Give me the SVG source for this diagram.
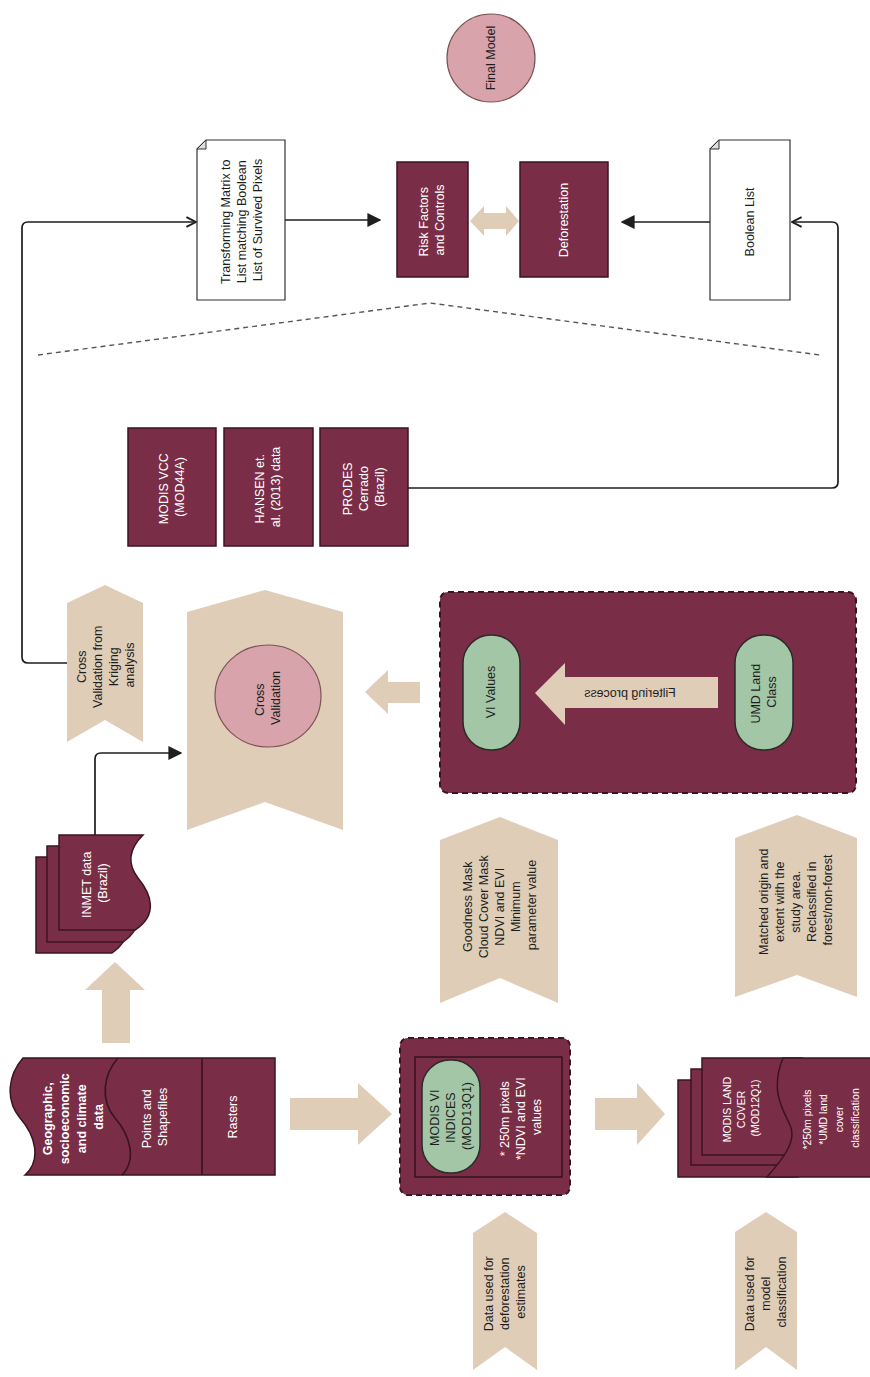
<svg xmlns="http://www.w3.org/2000/svg" width="870" height="1377" viewBox="0 0 870 1377">
  <style>
    .maroon { fill: #7a2d46; stroke: #3b1421; stroke-width: 1.5; }
    .dash { fill: #7a2d46; stroke: #3b1421; stroke-width: 2; stroke-dasharray: 6 4; }
    .tan { fill: #dfcdb8; stroke: none; }
    .pill { fill: #a3c6a6; stroke: #2b2b2b; stroke-width: 1.5; }
    .pink { fill: #d8a3aa; stroke: #7d5257; stroke-width: 1.2; }
    .doc { fill: #ffffff; stroke: #333333; stroke-width: 1.2; }
    .fold { fill: #dddddd; stroke: #333333; stroke-width: 1; }
    .conn { fill: none; stroke: #1e1e1e; stroke-width: 1.7; }
    .sep { fill: none; stroke: #555555; stroke-width: 1.4; stroke-dasharray: 5 4; }
    text { font-family: "Liberation Sans", Arial, sans-serif; font-size: 12.5px; text-anchor: middle; }
    .w { fill: #ffffff; }
    .k { fill: #1e1e1e; }
    .b { font-weight: bold; font-size: 12.5px; }
    .s { font-size: 10.5px; }
  </style>
  <defs>
    <marker id="arrowFill" viewBox="0 0 10 10" refX="9" refY="5" markerWidth="14" markerHeight="14" markerUnits="userSpaceOnUse" orient="auto">
      <path d="M0,0 L10,5 L0,10 z" fill="#1e1e1e"/>
    </marker>
    <marker id="arrowOpen" viewBox="0 0 10 10" refX="9" refY="5" markerWidth="12" markerHeight="12" markerUnits="userSpaceOnUse" orient="auto">
      <path d="M1,1 L9,5 L1,9" fill="none" stroke="#1e1e1e" stroke-width="1.6"/>
    </marker>
  </defs>

  <rect width="870" height="1377" fill="#ffffff"/>

  <!-- connectors -->
  <g id="connectors">
    <path class="conn" d="M285,220 H380" marker-end="url(#arrowFill)"/>
    <path class="conn" d="M710,222 H622" marker-end="url(#arrowFill)"/>
    <path class="conn" d="M408,488 H832 Q838,488 838,482 V228 Q838,222 832,222 H792" marker-end="url(#arrowOpen)"/>
    <path class="conn" d="M68,663 H28 Q22,663 22,657 V228 Q22,222 28,222 H196" marker-end="url(#arrowOpen)"/>
    <path class="conn" d="M95,835 V759 Q95,753 101,753 H181" marker-end="url(#arrowFill)"/>
    <path class="sep" d="M38,355 L430,303 L820,355"/>
    <!-- block arrows -->
    <polygon class="tan" points="290,1098 358,1098 358,1083 392,1114 358,1145 358,1130 290,1130"/>
    <polygon class="tan" points="595,1098 637,1098 637,1083 665,1114 637,1145 637,1130 595,1130"/>
    <polygon class="tan" points="102,1043 102,990 85,990 115,962 145,990 130,990 130,1043"/>
    <polygon class="tan" points="420,682 388,682 388,670 365,692 388,714 388,703 420,703"/>
    <polygon class="tan" points="470,221 484,206 484,213 506,213 506,206 519,221 506,236 506,229 484,229 484,236"/>
  </g>

  <!-- top: final model -->
  <g id="final-model">
    <circle class="pink" cx="491" cy="58" r="44"/>
    <text class="k" transform="translate(491,58) rotate(-90)" y="4">Final Model</text>
  </g>

  <g id="transform-doc">
    <path class="doc" d="M206,140 H285 V300 H197 V149 Z"/>
    <path class="fold" d="M197,149 L206,140 L206,149 Z"/>
    <text class="k" transform="translate(242,220) rotate(-90)">
      <tspan x="0" y="-12">Transforming Matrix to</tspan>
      <tspan x="0" y="4">List matching Boolean</tspan>
      <tspan x="0" y="20">List of Survived Pixels</tspan>
    </text>
  </g>

  <g id="risk-factors">
    <rect class="maroon" x="397" y="162" width="71" height="115"/>
    <text class="w" transform="translate(432,220) rotate(-90)">
      <tspan x="0" y="-4">Risk Factors</tspan>
      <tspan x="0" y="12">and Controls</tspan>
    </text>
  </g>

  <g id="deforestation">
    <rect class="maroon" x="520" y="162" width="88" height="115"/>
    <text class="w" transform="translate(564,220) rotate(-90)" y="4">Deforestation</text>
  </g>

  <g id="boolean-list">
    <path class="doc" d="M719,140 H790 V300 H710 V149 Z"/>
    <path class="fold" d="M710,149 L719,140 L719,149 Z"/>
    <text class="k" transform="translate(750,222) rotate(-90)" y="4">Boolean List</text>
  </g>

  <!-- reference datasets -->
  <g id="modis-vcc">
    <rect class="maroon" x="128" y="428" width="88" height="118"/>
    <text class="w" transform="translate(172,487) rotate(-90)">
      <tspan x="0" y="-4">MODIS VCC</tspan>
      <tspan x="0" y="12">(MOD44A)</tspan>
    </text>
  </g>
  <g id="hansen">
    <rect class="maroon" x="224" y="428" width="89" height="118"/>
    <text class="w" transform="translate(268,487) rotate(-90)">
      <tspan x="0" y="-4">HANSEN et.</tspan>
      <tspan x="0" y="12">al. (2013) data</tspan>
    </text>
  </g>
  <g id="prodes">
    <rect class="maroon" x="320" y="428" width="88" height="118"/>
    <text class="w" transform="translate(364,487) rotate(-90)">
      <tspan x="0" y="-12">PRODES</tspan>
      <tspan x="0" y="4">Cerrado</tspan>
      <tspan x="0" y="20">(Brazil)</tspan>
    </text>
  </g>

  <!-- cross validation -->
  <g id="kriging">
    <polygon class="tan" points="67,603 105,585 143,603 143,742 105,720 67,742"/>
    <text class="k" transform="translate(106,665) rotate(-90)">
      <tspan x="0" y="-20">Cross</tspan>
      <tspan x="0" y="-4">Validation from</tspan>
      <tspan x="0" y="12">Kriging</tspan>
      <tspan x="0" y="28">analysis</tspan>
    </text>
  </g>

  <g id="cross-validation">
    <polygon class="tan" points="187,612 265,590 343,612 343,830 265,802 187,830"/>
    <ellipse class="pink" cx="268" cy="696" rx="53" ry="51"/>
    <text class="k" transform="translate(268,698) rotate(-90)">
      <tspan x="0" y="-4">Cross</tspan>
      <tspan x="0" y="12">Validation</tspan>
    </text>
  </g>

  <g id="filtering">
    <rect class="dash" x="440" y="592" width="416" height="201" rx="8"/>
    <rect class="pill" x="463" y="635" width="57" height="115" rx="28"/>
    <text class="k" transform="translate(491,692) rotate(-90)" y="4">VI Values</text>
    <rect class="pill" x="735" y="635" width="58" height="115" rx="28"/>
    <text class="k" transform="translate(764,692) rotate(-90)">
      <tspan x="0" y="-4">UMD Land</tspan>
      <tspan x="0" y="12">Class</tspan>
    </text>
    <polygon class="tan" points="718,677 565,677 565,663 535,693 565,725 565,708 718,708"/>
    <text class="k" transform="translate(630,697) scale(-1,1)">Filtering process</text>
  </g>

  <!-- INMET stack -->
  <g id="inmet">
    <path class="maroon" d="M36,857 H120 C105,872 105,887 115,900 C129,917 135,937 112,953 H36 Z"/>
    <path class="maroon" d="M47,846 H131 C116,861 116,876 126,889 C140,906 146,926 123,942 H47 Z"/>
    <path class="maroon" d="M59,835 H143 C128,850 128,865 138,878 C152,895 158,915 135,930 H59 Z"/>
    <text class="w" transform="translate(95,883) rotate(-90)">
      <tspan x="0" y="-4">INMET data</tspan>
      <tspan x="0" y="12">(Brazil)</tspan>
    </text>
  </g>

  <!-- input data -->
  <g id="geo-data">
    <path class="maroon" d="M23,1058 H275 V1175 H25 C42,1160 35,1135 20,1118 C5,1100 8,1075 23,1058 Z"/>
    <path class="conn" style="stroke:#3b1421" d="M118,1058 C103,1075 100,1100 115,1118 C130,1135 137,1160 122,1175"/>
    <path class="conn" style="stroke:#3b1421" d="M202,1058 V1175"/>
    <text class="w b" transform="translate(73,1117) rotate(-90)">
      <tspan x="0" y="-21">Geographic,</tspan>
      <tspan x="0" y="-4">socioeconomic</tspan>
      <tspan x="0" y="13">and climate</tspan>
      <tspan x="0" y="30">data</tspan>
    </text>
    <text class="w" transform="translate(155,1117) rotate(-90)">
      <tspan x="0" y="-4">Points and</tspan>
      <tspan x="0" y="12">Shapefiles</tspan>
    </text>
    <text class="w" transform="translate(233,1117) rotate(-90)" y="4">Rasters</text>
  </g>

  <g id="modis-vi">
    <rect class="dash" x="400" y="1038" width="170" height="157" rx="8"/>
    <rect fill="none" stroke="#2a0e17" stroke-width="1.3" x="415" y="1057" width="147" height="120"/>
    <rect class="pill" x="422" y="1060" width="58" height="113" rx="28"/>
    <text class="k" transform="translate(451,1116) rotate(-90)">
      <tspan x="0" y="-12">MODIS VI</tspan>
      <tspan x="0" y="4">INDICES</tspan>
      <tspan x="0" y="20">(MOD13Q1)</tspan>
    </text>
    <text class="w" transform="translate(521,1117) rotate(-90)">
      <tspan x="0" y="-12">* 250m pixels</tspan>
      <tspan x="0" y="4">*NDVI and EVI</tspan>
      <tspan x="0" y="20">values</tspan>
    </text>
  </g>

  <g id="modis-land-cover">
    <rect class="maroon" x="678" y="1080" width="120" height="97"/>
    <rect class="maroon" x="691" y="1069" width="110" height="96"/>
    <rect class="maroon" x="702" y="1058" width="100" height="97"/>
    <path class="maroon" d="M783,1058 H875 V1177 H767 C780,1162 798,1142 790,1125 C782,1108 770,1090 783,1058 Z"/>
    <text class="w s" transform="translate(742,1108) rotate(-90)">
      <tspan x="0" y="-11">MODIS LAND</tspan>
      <tspan x="0" y="3">COVER</tspan>
      <tspan x="0" y="17">(MOD12Q1)</tspan>
    </text>
    <text class="w s" transform="translate(832,1118) rotate(-90)">
      <tspan x="0" y="-21">*250m pixels</tspan>
      <tspan x="0" y="-5">*UMD land</tspan>
      <tspan x="0" y="11">cover</tspan>
      <tspan x="0" y="27">classification</tspan>
    </text>
  </g>

  <!-- annotations -->
  <g id="note-masks">
    <polygon class="tan" points="440,840 500,817 558,840 558,1003 500,978 440,1003"/>
    <text class="k" transform="translate(500,905) rotate(-90)">
      <tspan x="0" y="-28">Goodness Mask</tspan>
      <tspan x="0" y="-12">Cloud Cover Mask</tspan>
      <tspan x="0" y="4">NDVI and EVI</tspan>
      <tspan x="0" y="20">Minimum</tspan>
      <tspan x="0" y="36">parameter value</tspan>
    </text>
  </g>
  <g id="note-matched">
    <polygon class="tan" points="735,838 797,815 857,838 857,997 797,975 735,997"/>
    <text class="k" transform="translate(796,900) rotate(-90)">
      <tspan x="0" y="-28">Matched origin and</tspan>
      <tspan x="0" y="-12">extent with the</tspan>
      <tspan x="0" y="4">study area.</tspan>
      <tspan x="0" y="20">Reclassified in</tspan>
      <tspan x="0" y="36">forest/non-forest</tspan>
    </text>
  </g>
  <g id="note-deforestation">
    <polygon class="tan" points="473,1233 505,1212 537,1233 537,1370 505,1347 473,1370"/>
    <text class="k" transform="translate(505,1292) rotate(-90)">
      <tspan x="0" y="-12">Data used for</tspan>
      <tspan x="0" y="4">deforestation</tspan>
      <tspan x="0" y="20">estimates</tspan>
    </text>
  </g>
  <g id="note-classification">
    <polygon class="tan" points="735,1232 766,1212 797,1232 797,1370 766,1347 735,1370"/>
    <text class="k" transform="translate(766,1292) rotate(-90)">
      <tspan x="0" y="-12">Data used for</tspan>
      <tspan x="0" y="4">model</tspan>
      <tspan x="0" y="20">classification</tspan>
    </text>
  </g>
</svg>
